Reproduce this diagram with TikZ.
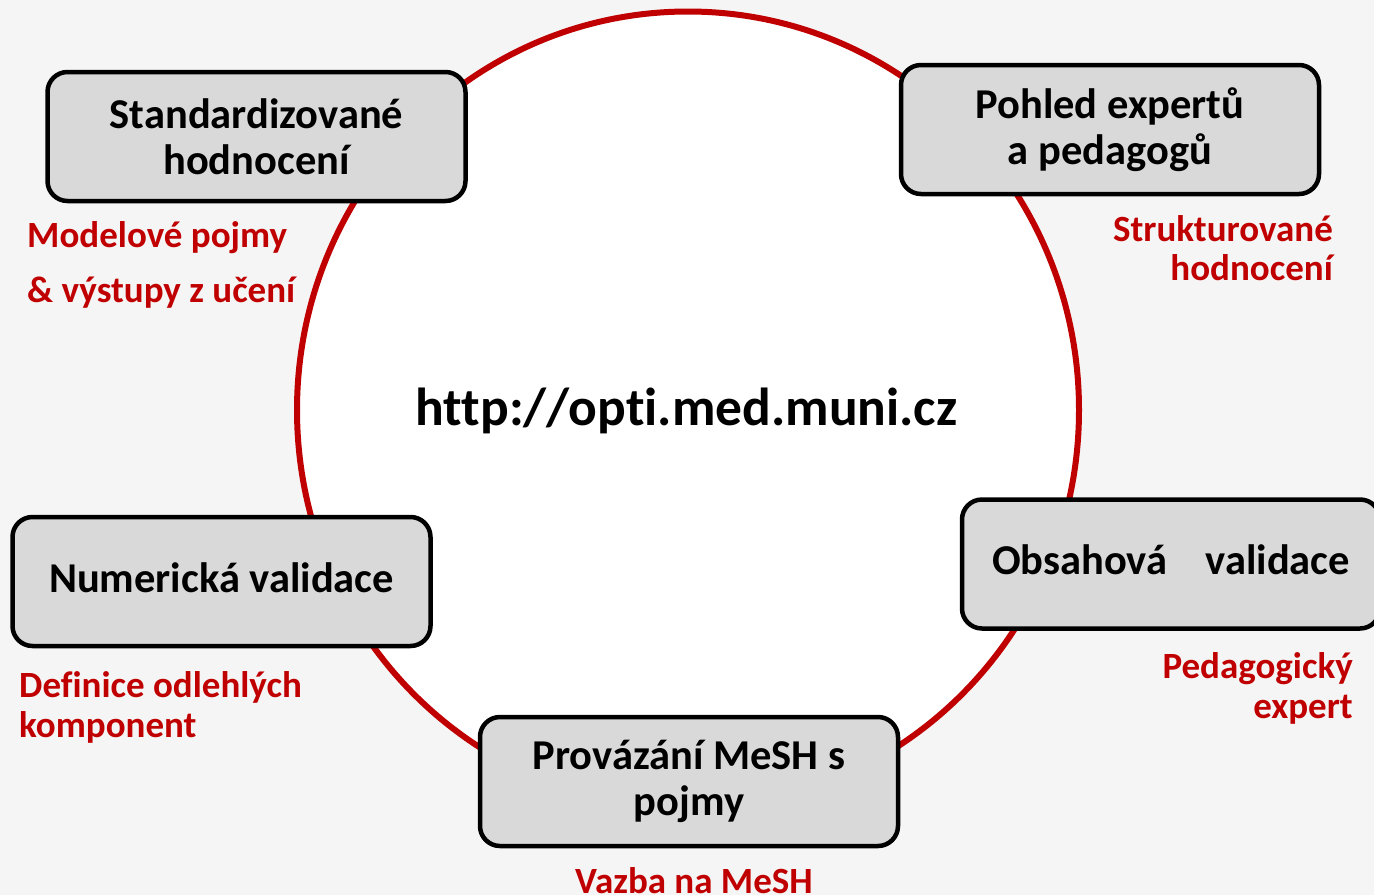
\documentclass[tikz,border=0pt]{standalone}
\usepackage{fontspec}
\setmainfont{Carlito}[Ligatures=NoCommon]
\definecolor{ringred}{HTML}{C00000}
\definecolor{boxgray}{HTML}{D9D9D9}
\definecolor{pagegray}{HTML}{F5F5F5}

\begin{document}
\begin{tikzpicture}[x=1pt, y=-1pt,
    stage/.style={draw=black, line width=4.5pt, fill=boxgray, rounded corners=20pt,
      minimum width=418pt, minimum height=129pt, align=center,
      font=\fontsize{42.5}{46}\selectfont\bfseries},
    note/.style={text=ringred, inner sep=0pt, font=\fontsize{37}{40}\selectfont\bfseries}]
  \path[use as bounding box, fill=pagegray] (0,0) rectangle (1374,895);
  \draw[ringred, line width=6pt, fill=white] (688,410) ellipse [x radius=391, y radius=398.5];
  \node[anchor=base, font=\fontsize{53.5}{60}\selectfont\bfseries] (url) at (686.5,425) {http://opti.med.muni.cz};
  % the five boxes on the ring
  \node[stage] (standard) at (256.5,136.5) {Standardizované\\hodnocení};
  \node[stage] (experts) at (1110,129.5) {Pohled expertů\\a pedagogů};
  \node[stage, text depth=8pt] (numeric) at (221.5,581.5) {Numerická validace};
  \node[stage, text depth=8pt] (content) at (1171,564) {Obsahová\hspace{0.9em}validace};
  \node[stage] (mesh) at (689,781.5) {Provázání MeSH s\\pojmy};
  % red notes (base = last line)
  \node[note, anchor=base west, align=left, font=\fontsize{37}{55}\selectfont\bfseries] (concepts) at (27,302) {Modelové pojmy\\\& výstupy z učení};
  \node[note, anchor=base east, align=right, font=\fontsize{37}{39}\selectfont\bfseries] (structured) at (1333,280) {Strukturované\\hodnocení};
  \node[note, anchor=base west, align=left] (outliers) at (19,737) {Definice odlehlých\\komponent};
  \node[note, anchor=base east, align=right] (pedexpert) at (1353,718) {Pedagogický\\expert};
  \node[note, anchor=base] (meshlink) at (694,893) {Vazba na MeSH};
\end{tikzpicture}
\end{document}
